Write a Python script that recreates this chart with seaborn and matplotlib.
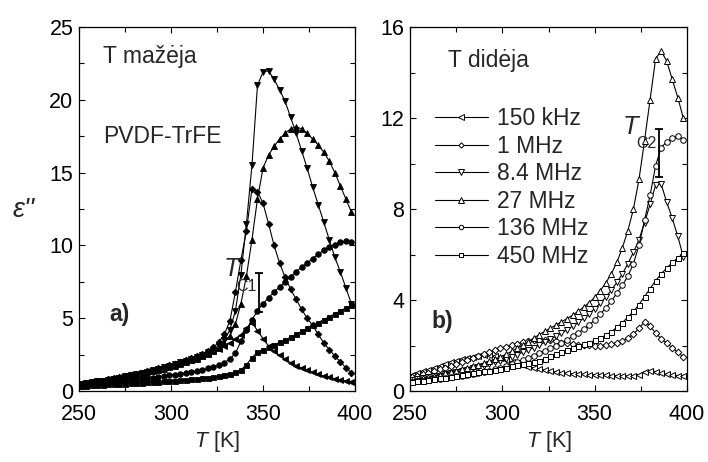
import matplotlib
matplotlib.use("Agg")
import matplotlib.pyplot as plt
from matplotlib.ticker import MultipleLocator
import seaborn as sns

# ---------------- data ----------------
temperature_K = [251, 254, 257, 260, 263, 266, 269, 272, 275, 278, 281, 284, 287, 290, 293,
                 296, 299, 302, 305, 308, 311, 314, 317, 320, 323, 326, 329, 332, 335, 338,
                 341, 344, 347, 350, 353, 356, 359, 362, 365, 368, 371, 374, 377, 380, 383,
                 386, 389, 392, 395, 398]

freq_labels = ["150 kHz", "1 MHz", "8.4 MHz", "27 MHz", "136 MHz", "450 MHz"]

# panel a) cooling ("T mažėja")
cool_150kHz = [0.5, 0.55, 0.6, 0.66, 0.72, 0.79, 0.86, 0.93, 1.0, 1.08, 1.16, 1.25, 1.34, 1.43, 1.52,
               1.62, 1.72, 1.82, 1.93, 2.04, 2.16, 2.29, 2.42, 2.56, 2.72, 2.9, 3.1, 3.3, 3.55, 3.85,
               4.3, 4.7, 4.15, 3.6, 3.1, 2.75, 2.45, 2.2, 1.95, 1.75, 1.58, 1.42, 1.28, 1.15, 1.03,
               0.93, 0.85, 0.77, 0.7, 0.65]
cool_1MHz = [0.5, 0.55, 0.6, 0.66, 0.72, 0.79, 0.86, 0.93, 1.0, 1.08, 1.16, 1.25, 1.35, 1.45, 1.55,
             1.66, 1.77, 1.88, 2.0, 2.12, 2.26, 2.4, 2.56, 2.75, 3.0, 3.35, 3.9, 4.8, 6.8, 9.0,
             11.0, 13.9, 13.7, 12.9, 11.5, 10.0, 8.8, 7.8, 7.0, 6.3, 5.6, 5.0, 4.5, 3.9, 3.3,
             2.85, 2.4, 2.0, 1.6, 1.25]
cool_8_4MHz = [0.5, 0.55, 0.6, 0.66, 0.72, 0.78, 0.85, 0.92, 1.0, 1.07, 1.15, 1.24, 1.33, 1.42, 1.52,
               1.62, 1.73, 1.84, 1.96, 2.08, 2.21, 2.35, 2.5, 2.66, 2.85, 3.1, 3.5, 4.2, 5.5, 8.0,
               11.5, 15.5, 21.0, 21.9, 22.0, 21.4, 20.7, 19.9, 18.8, 17.7, 16.5, 15.3, 14.0, 12.8, 11.6,
               10.4, 9.2, 8.2, 7.1, 6.0]
cool_27MHz = [0.48, 0.52, 0.57, 0.62, 0.68, 0.74, 0.8, 0.87, 0.94, 1.01, 1.09, 1.17, 1.26, 1.35, 1.44,
              1.54, 1.64, 1.75, 1.86, 1.98, 2.1, 2.23, 2.37, 2.53, 2.72, 2.98, 3.3, 3.8, 4.6, 6.0,
              7.9, 10.4, 13.2, 15.3, 16.2, 16.8, 17.3, 17.7, 18.0, 18.15, 18.0, 17.7, 17.3, 16.9, 16.4,
              15.8, 15.0, 14.1, 13.2, 12.3]
cool_136MHz = [0.45, 0.48, 0.5, 0.53, 0.56, 0.59, 0.62, 0.66, 0.7, 0.74, 0.78, 0.82, 0.87, 0.92, 0.97,
               1.02, 1.07, 1.12, 1.18, 1.24, 1.3, 1.37, 1.45, 1.55, 1.65, 1.8, 1.95, 2.2, 2.6, 3.4,
               4.2, 4.9, 5.5, 6.0, 6.4, 6.8, 7.15, 7.5, 7.85, 8.2, 8.5, 8.8, 9.1, 9.4, 9.65,
               9.9, 10.05, 10.2, 10.3, 10.25]
cool_450MHz = [0.35, 0.37, 0.39, 0.41, 0.43, 0.45, 0.47, 0.49, 0.51, 0.53, 0.55, 0.57, 0.6, 0.62, 0.64,
               0.67, 0.7, 0.72, 0.74, 0.76, 0.79, 0.82, 0.86, 0.9, 0.95, 1.0, 1.08, 1.15, 1.28, 1.45,
               1.8, 2.3, 2.65, 2.85, 3.0, 3.15, 3.35, 3.5, 3.7, 3.9, 4.1, 4.3, 4.5, 4.7, 4.9,
               5.1, 5.3, 5.5, 5.7, 5.9]

# panel b) heating ("T didėja")
heat_150kHz = [0.7, 0.78, 0.86, 0.94, 1.02, 1.1, 1.18, 1.26, 1.33, 1.4, 1.46, 1.51, 1.55, 1.57, 1.57,
               1.53, 1.45, 1.36, 1.28, 1.2, 1.13, 1.07, 1.01, 0.96, 0.92, 0.88, 0.84, 0.81, 0.78, 0.76,
               0.74, 0.73, 0.72, 0.71, 0.7, 0.69, 0.68, 0.67, 0.66, 0.66, 0.67, 0.72, 0.85, 0.9, 0.85,
               0.78, 0.73, 0.7, 0.68, 0.66]
heat_1MHz = [0.63, 0.68, 0.74, 0.8, 0.87, 0.95, 1.03, 1.11, 1.19, 1.28, 1.37, 1.46, 1.55, 1.63, 1.71,
             1.8, 1.88, 1.95, 2.02, 2.08, 2.14, 2.18, 2.22, 2.24, 2.24, 2.22, 2.18, 2.13, 2.09, 2.06,
             2.04, 2.02, 2.01, 2.0, 2.0, 2.02, 2.06, 2.12, 2.2, 2.32, 2.5, 2.75, 3.05, 2.85, 2.55,
             2.3, 2.1, 1.9, 1.7, 1.5]
heat_8_4MHz = [0.5, 0.53, 0.56, 0.6, 0.64, 0.68, 0.73, 0.78, 0.83, 0.88, 0.94, 1.0, 1.06, 1.12, 1.19,
               1.26, 1.34, 1.42, 1.51, 1.6, 1.7, 1.8, 1.91, 2.02, 2.14, 2.27, 2.4, 2.54, 2.69, 2.85,
               3.02, 3.2, 3.4, 3.62, 3.86, 4.13, 4.43, 4.77, 5.15, 5.6, 6.1, 6.65, 7.4, 8.2, 9.05,
               9.1, 8.3, 7.6, 6.8, 5.9]
heat_27MHz = [0.45, 0.5, 0.55, 0.6, 0.66, 0.72, 0.78, 0.84, 0.9, 0.96, 1.02, 1.09, 1.16, 1.23, 1.31,
              1.4, 1.5, 1.62, 1.74, 1.88, 2.02, 2.17, 2.33, 2.48, 2.62, 2.76, 2.9, 3.04, 3.18, 3.33,
              3.5, 3.68, 3.88, 4.12, 4.4, 4.75, 5.15, 5.65, 6.3, 7.05, 8.0, 9.3, 11.0, 12.8, 14.6,
              14.95, 14.5, 13.7, 12.9, 12.0]
heat_136MHz = [0.4, 0.42, 0.45, 0.48, 0.51, 0.54, 0.57, 0.6, 0.64, 0.68, 0.72, 0.76, 0.8, 0.84, 0.9,
               0.96, 1.03, 1.1, 1.18, 1.27, 1.36, 1.46, 1.56, 1.66, 1.77, 1.88, 2.0, 2.12, 2.25, 2.4,
               2.55, 2.72, 2.9, 3.12, 3.38, 3.65, 3.95, 4.3, 4.65, 5.05, 5.6, 6.4, 7.5, 8.6, 9.9,
               10.7, 10.95, 11.1, 11.2, 11.05]
heat_450MHz = [0.4, 0.42, 0.45, 0.48, 0.51, 0.55, 0.58, 0.62, 0.66, 0.7, 0.74, 0.78, 0.82, 0.86, 0.9,
               0.94, 0.98, 1.03, 1.08, 1.13, 1.18, 1.23, 1.28, 1.33, 1.42, 1.52, 1.62, 1.71, 1.8, 1.88,
               1.97, 2.05, 2.13, 2.22, 2.33, 2.45, 2.6, 2.8, 3.0, 3.25, 3.5, 3.8, 4.15, 4.5, 4.85,
               5.15, 5.4, 5.65, 5.85, 6.05]

cool_series = [cool_150kHz, cool_1MHz, cool_8_4MHz, cool_27MHz, cool_136MHz, cool_450MHz]
heat_series = [heat_150kHz, heat_1MHz, heat_8_4MHz, heat_27MHz, heat_136MHz, heat_450MHz]

# critical-temperature bars (T, lower, upper)
tc1_bar = (348, 5.4, 8.1)
tc2_bar = (385, 9.42, 11.5)

# ---------------- style ----------------
sns.set_theme(style="ticks")
plt.rcParams["font.family"] = ["Liberation Sans", "DejaVu Sans"]
plt.rcParams["mathtext.fontset"] = "custom"
plt.rcParams["mathtext.rm"] = "Liberation Sans"
plt.rcParams["mathtext.it"] = "Liberation Sans:italic"
FS = 16.5      # annotation / legend text
TFS = 15.5     # tick labels

marker_shapes = ["<", "D", "v", "^", "o", "s"]
marker_sizes = [4.6, 3.4, 4.6, 4.6, 4.0, 3.6]

fig = plt.figure(figsize=(7.08, 4.62), dpi=100)
ax_a = fig.add_axes([79 / 708, 1 - 391 / 462, 276 / 708, 364 / 462])
ax_b = fig.add_axes([410 / 708, 1 - 391 / 462, 277 / 708, 364 / 462])

for vals, m, ms in zip(cool_series, marker_shapes, marker_sizes):
    sns.lineplot(x=temperature_K, y=vals, ax=ax_a, color="black", marker=m, markersize=ms,
                 markerfacecolor="black", markeredgecolor="black", markeredgewidth=0.6,
                 linewidth=0.8, sort=False, estimator=None, legend=False)

handles = []
for vals, m, ms, lab in zip(heat_series, marker_shapes, marker_sizes, freq_labels):
    sns.lineplot(x=temperature_K, y=vals, ax=ax_b, color="black", marker=m, markersize=ms,
                 markerfacecolor="white", markeredgecolor="black", markeredgewidth=0.7,
                 linewidth=0.8, sort=False, estimator=None, legend=False)
    line = ax_b.lines[-1]
    line.set_label(lab)
    handles.append(line)

for ax, bar in ((ax_a, tc1_bar), (ax_b, tc2_bar)):
    x, lo, hi = bar
    ax.errorbar([x], [(lo + hi) / 2], yerr=[[(hi - lo) / 2], [(hi - lo) / 2]], color="black",
                capsize=3, elinewidth=1.3, capthick=1.3, fmt="none")

for ax in (ax_a, ax_b):
    ax.set_xlim(250, 400)
    ax.xaxis.set_major_locator(MultipleLocator(50))
    ax.xaxis.set_minor_locator(MultipleLocator(25))
    ax.tick_params(which="both", direction="in", top=True, right=True, width=0.8,
                   labelsize=TFS, colors="black")
    ax.tick_params(which="major", length=4.5)
    ax.tick_params(which="minor", length=3.5)
    ax.tick_params(axis="x", which="major", pad=9)
    ax.tick_params(axis="y", which="major", pad=4)
    for s in ax.spines.values():
        s.set_linewidth(0.9)
        s.set_color("black")
    ax.set_xlabel(r"$T$ [K]", fontsize=TFS, labelpad=3)
    ax.set_ylabel("")

ax_a.set_ylim(0, 25)
ax_a.yaxis.set_major_locator(MultipleLocator(5))
ax_a.yaxis.set_minor_locator(MultipleLocator(2.5))
ax_b.set_ylim(0, 16)
ax_b.yaxis.set_major_locator(MultipleLocator(4))
ax_b.yaxis.set_minor_locator(MultipleLocator(2))

fig.text(24 / 708, 1 - 210 / 462, "ε''", fontsize=FS + 3, style="italic", ha="center", va="center")

ax_a.text(0.087, 0.918, "T mažėja", transform=ax_a.transAxes, fontsize=FS, va="center", ha="left")
ax_a.text(0.087, 0.698, "PVDF-TrFE", transform=ax_a.transAxes, fontsize=FS, va="center", ha="left")
ax_a.text(0.145, 0.209, "a)", transform=ax_a.transAxes, fontsize=FS, fontweight="bold",
          va="center", ha="center")
ax_b.text(0.137, 0.909, "T didėja", transform=ax_b.transAxes, fontsize=FS, va="center", ha="left")
ax_b.text(0.116, 0.192, "b)", transform=ax_b.transAxes, fontsize=FS, fontweight="bold",
          va="center", ha="center")

ax_a.text(333.0, 8.4, "T", fontsize=FS + 2, style="italic", ha="center", va="center")
ax_a.text(340.8, 7.2, "C1", fontsize=FS - 5, ha="center", va="center")
ax_b.text(369.5, 11.6, "T", fontsize=FS + 2, style="italic", ha="center", va="center")
ax_b.text(378.2, 10.9, "C2", fontsize=FS - 5, ha="center", va="center")

ax_b.legend(handles=handles, loc="upper left", bbox_to_anchor=(0.09, 0.78), frameon=False,
            fontsize=FS, borderpad=0, borderaxespad=0, handlelength=2.3, handletextpad=0.4,
            labelspacing=0.2, numpoints=1, markerscale=0.8)

fig.savefig("out.png", dpi=100)
